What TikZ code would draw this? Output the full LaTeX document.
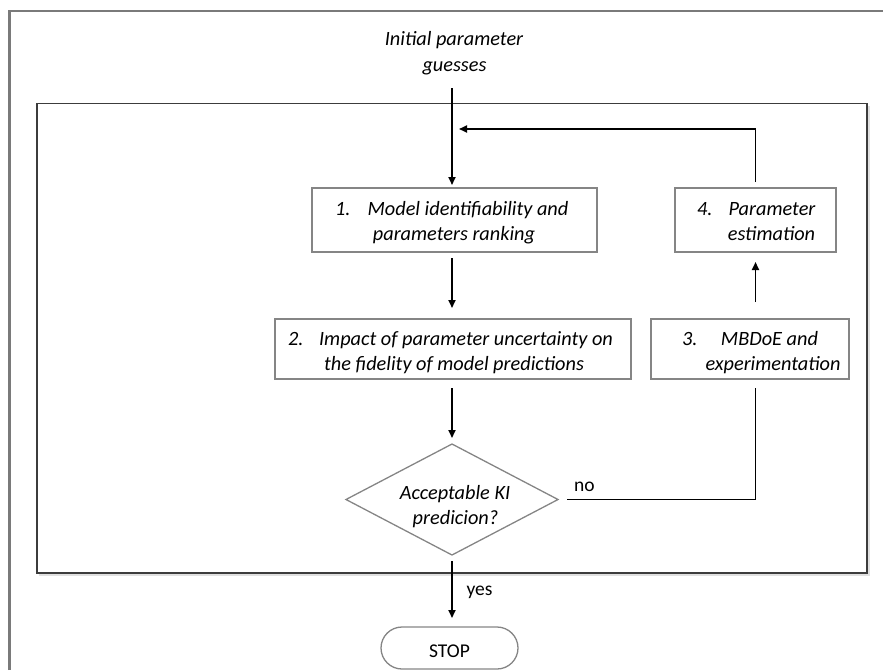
\documentclass[tikz,border=0pt]{standalone}
\usepackage{fontspec}
\setmainfont{Carlito}
\usetikzlibrary{arrows.meta,shapes.geometric}
\definecolor{boxgray}{HTML}{858585}
\definecolor{framegray}{HTML}{3C3C3C}
\definecolor{pagegray}{HTML}{7A7A7A}
\begin{document}
\begin{tikzpicture}[x=1pt,y=-1pt,
  every node/.style={inner sep=0pt,outer sep=0pt},
  stepbox/.style={draw=boxgray,line width=1.3pt,rectangle},
  decision/.style={draw=boxgray,line width=1.3pt,diamond,aspect=1.91},
  terminal/.style={draw=boxgray,line width=1.3pt,rectangle,rounded corners=21pt},
  txt/.style={font=\fontsize{20.3}{25}\selectfont\itshape,anchor=base},
  num/.style={font=\fontsize{20.3}{25}\selectfont\itshape,anchor=base west},
  lbl/.style={font=\fontsize{19.5}{24}\selectfont,anchor=base},
  flow/.style={line width=1.8pt,draw=black,-{Triangle[length=8pt,width=7pt]}},
  link/.style={line width=1.8pt,draw=black}]
\useasboundingbox (0,0) rectangle (883,670);

% page frame (left and top edges)
\draw[pagegray,line width=2.5pt] (9.5,670) -- (9.5,11) -- (883,11);

% iteration frame
\draw[black!12,line width=1.5pt] (39,575) -- (869,575) -- (869,105.5);
\draw[framegray,line width=1.6pt] (37,103.5) rectangle (867,573);

% starting text
\node[txt] (init1) at (454,45) {Initial parameter};
\node[txt] (init2) at (454.5,71) {guesses};
\coordinate (start) at (452,88);
\coordinate (loopend) at (452,129);

% steps
\node[stepbox,minimum width=285pt,minimum height=64pt] (b1) at (454.5,220) {};
\node[stepbox,minimum width=356pt,minimum height=60pt] (b2) at (453,349) {};
\node[stepbox,minimum width=198pt,minimum height=60pt] (b3) at (750,349) {};
\node[stepbox,minimum width=161pt,minimum height=64pt] (b4) at (755.5,220) {};
\node[decision,minimum width=212pt,minimum height=111pt] (dia) at (452,499.5) {};
\node[terminal,minimum width=137pt,minimum height=42pt] (stop) at (449.5,648) {};

% step texts
\node[num] (n1) at (335,215) {1.};
\node[txt] (t1a) at (468,215) {Model identifiability and};
\node[txt] (t1b) at (454,240) {parameters ranking};
\node[num] (n2) at (288,345) {2.};
\node[txt] (t2a) at (466,345) {Impact of parameter uncertainty on};
\node[txt] (t2b) at (454,370) {the fidelity of model predictions};
\node[num] (n3) at (682,345) {3.};
\node[txt] (t3a) at (769.5,345) {MBDoE and};
\node[txt] (t3b) at (773,370) {experimentation};
\node[num] (n4) at (697,215) {4.};
\node[txt] (t4a) at (772,215) {Parameter};
\node[txt] (t4b) at (771.5,240) {estimation};
\node[txt] (d1) at (455,499) {Acceptable KI};
\node[txt] (d2) at (455.5,524) {predicion?};
\node[lbl] (stoptxt) at (449.5,657) {STOP};
\node[lbl] (no) at (584.5,491) {no};
\node[lbl] (yes) at (479.5,595) {yes};

% connectors
\draw[flow,shorten >=3pt] (start) -- (b1.north -| start);
\draw[flow,shorten <=6pt,shorten >=11pt] (b1.south -| start) -- (b2.north -| start);
\draw[flow,shorten <=9pt,shorten >=6pt] (b2.south -| start) -- (dia.north);
\draw[link,shorten <=9pt,shorten >=9pt] (dia.east) -| (b3.south -| b4.south);
\draw[flow,shorten <=17pt,shorten >=10pt] (b3.north -| b4.south) -- (b4.south);
\draw[flow,shorten <=6pt,shorten >=7pt] (b4.north) |- (loopend);
\draw[flow,shorten <=6pt,shorten >=9pt] (dia.south) -- (dia.south |- stop.north);
\end{tikzpicture}
\end{document}
